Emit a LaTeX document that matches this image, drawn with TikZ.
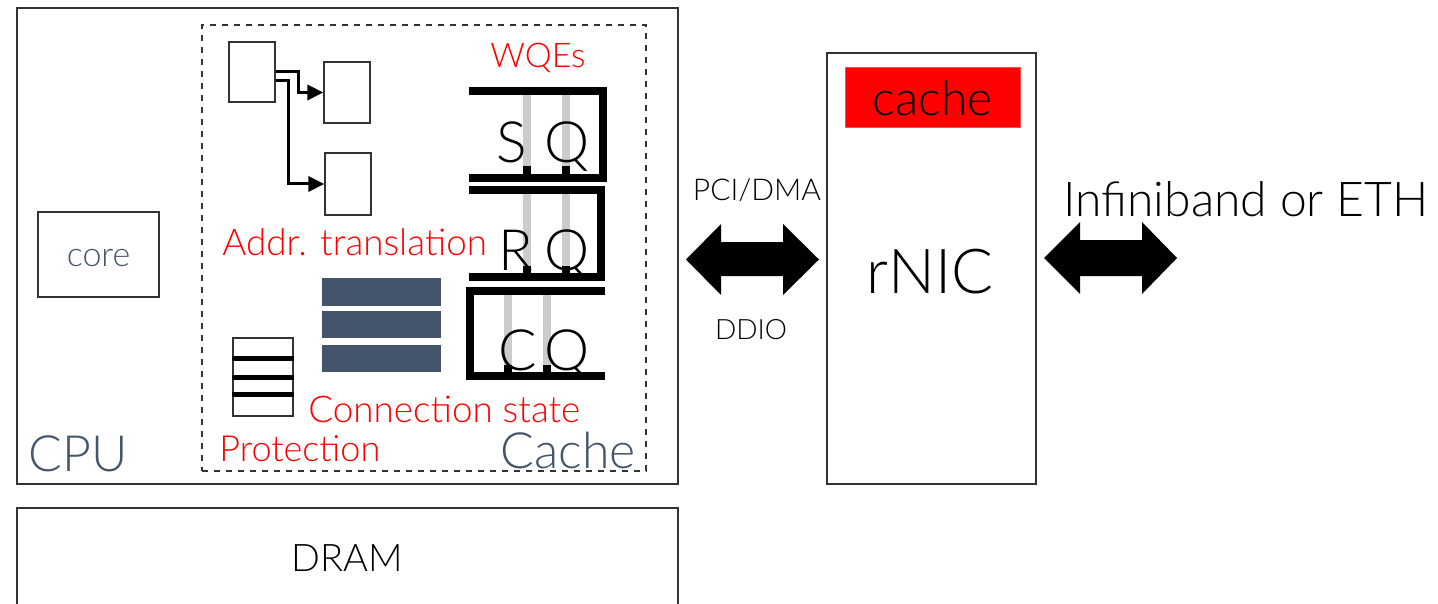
\documentclass[tikz,border=0pt]{standalone}
\usepackage{fontspec}
\setmainfont{Lato Light}
\usetikzlibrary{arrows.meta}
\definecolor{slate}{HTML}{44546A}
\definecolor{barg}{HTML}{CCCCCC}
\definecolor{pred}{HTML}{FF0000}
\tikzset{
  box/.style={draw=black!80, line width=0.6pt, fill=white, inner sep=0pt},
  redlbl/.style={text=pred, inner sep=0pt},
  qline/.style={line width=4pt, miter limit=10},
  gbar/.style={draw=barg, line width=4pt},
  tick/.style={draw=black, line width=4pt},
  qletter/.style={inner sep=0pt, font=\fontsize{28.5}{30}\selectfont},
  ptr/.style={line width=1.5pt, -{Triangle[length=8pt,width=7.5pt]}},
  fatarrow/.style={fill=black},
}
\begin{document}
\begin{tikzpicture}[x=0.5pt,y=-0.5pt]
\useasboundingbox (0,0) rectangle (1438,604);
% CPU and DRAM
\node[box, minimum width=330.5pt, minimum height=238pt] (cpu) at (347.5,246) {};
\node[box, minimum width=330.5pt, minimum height=60pt] (dram) at (347.5,568) {};
\node[inner sep=0pt, font=\fontsize{19}{22}\selectfont] (dramt) at (347,558) {DRAM};
\node[anchor=base west, inner sep=0pt, text=slate, font=\fontsize{25}{28}\selectfont] (cput) at (28,471) {CPU};
% core
\node[box, minimum width=60.5pt, minimum height=42.5pt] (core) at (98.5,254.5) {};
\node[inner sep=0pt, text=slate, font=\fontsize{17}{20}\selectfont] (coret) at (98.5,258) {core};
% cache dashed
\node[draw=black!80, dashed, line width=0.6pt, inner sep=0pt, minimum width=222pt, minimum height=223pt] (cache) at (424,248) {};
\node[anchor=base east, inner sep=0pt, text=slate, font=\fontsize{25}{28}\selectfont] (cachet) at (636,468) {Cache};
% address translation
\node[box, minimum width=23pt, minimum height=30pt] (a1) at (252,72) {};
\node[box, minimum width=23pt, minimum height=30.5pt] (a2) at (347,92.5) {};
\node[box, minimum width=23pt, minimum height=31pt] (a3) at (348,184) {};
\draw[ptr] (a1.east) -- ++(23,0) |- (a2.west);
\draw[ptr] ([yshift=-4.5pt]a1.east) -- ++(13,0) |- (a3.west);
\node[anchor=base west, redlbl, font=\fontsize{18.4}{20}\selectfont] (addrt) at (222,255) {Addr. translation};
% WQEs
\node[redlbl, font=\fontsize{17}{20}\selectfont] (wqet) at (538,58) {WQEs};
% SQ
\draw[gbar] (527,95) -- (527,172);
\draw[gbar] (566,95) -- (566,172);
\draw[tick] (527,166) -- (527,176);
\draw[tick] (566,166) -- (566,176);
\node[qletter, anchor=base] (sqs) at (512,163) {S};
\node[qletter, anchor=base] (sqq) at (567,163) {Q};
\draw[qline] (469,91) -- (603,91) -- (603,178) -- (469,178);
% RQ
\draw[gbar] (527,194) -- (527,270);
\draw[gbar] (566,194) -- (566,270);
\draw[tick] (527,266) -- (527,274);
\draw[tick] (566,266) -- (566,274);
\node[qletter, anchor=base] (rqr) at (516,270) {R};
\node[qletter, anchor=base] (rqq) at (567,270) {Q};
\draw[qline] (469,190) -- (601,190) -- (601,277) -- (469,277);
% CQ
\draw[gbar] (508,295) -- (508,372);
\draw[gbar] (547,295) -- (547,372);
\draw[tick] (508,365) -- (508,373);
\draw[tick] (547,365) -- (547,373);
\node[qletter, anchor=base] (cqc) at (518,370) {C};
\node[qletter, anchor=base] (cqq) at (567,370) {Q};
\draw[qline] (605,291) -- (470,291) -- (470,376) -- (605,376);
% connection state
\fill[slate] (322,278) rectangle (441,306);
\fill[slate] (322,311) rectangle (441,338);
\fill[slate] (322,345) rectangle (441,372);
\node[anchor=base west, redlbl, font=\fontsize{18.4}{20}\selectfont] (connt) at (308,422) {Connection state};
% protection
\node[box, minimum width=30pt, minimum height=39pt] (prot) at (263,377) {};
\draw[line width=2.5pt] (prot.west |- 0,358) -- (prot.east |- 0,358);
\draw[line width=2.5pt] (prot.west |- 0,377) -- (prot.east |- 0,377);
\draw[line width=2.5pt] (prot.west |- 0,394) -- (prot.east |- 0,394);
\node[anchor=base west, redlbl, font=\fontsize{18}{20}\selectfont] (prott) at (219,461) {Protection};
% rNIC
\node[box, minimum width=104.5pt, minimum height=215.5pt] (nic) at (931.5,268.5) {};
\node[fill=pred, draw=pred!70!white, line width=0.5pt, minimum width=87.5pt, minimum height=30pt, inner sep=0pt, font=\fontsize{24}{26}\selectfont] (niccache) at (932.5,98) {cache};
\node[inner sep=0pt, font=\fontsize{31}{34}\selectfont] (nict) at (930,272) {rNIC};
% PCI arrow
\fill[fatarrow] (686,259.5) -- (721,224) -- (721,242) -- (783,242) -- (783,224) -- (819,259.5) -- (783,295) -- (783,276) -- (721,276) -- (721,295) -- cycle;
\node[inner sep=0pt, font=\fontsize{15}{17}\selectfont] (pcit) at (757,190) {PCI/DMA};
\node[inner sep=0pt, font=\fontsize{14}{16}\selectfont] (ddiot) at (751,330) {DDIO};
% network arrow
\fill[fatarrow] (1044,258) -- (1080,222) -- (1080,240) -- (1142,240) -- (1142,222) -- (1177,258) -- (1142,294) -- (1142,276) -- (1080,276) -- (1080,294) -- cycle;
\node[anchor=base west, inner sep=0pt, font=\fontsize{24}{26}\selectfont] (ibt) at (1063,216) {Infiniband or ETH};
\end{tikzpicture}
\end{document}
